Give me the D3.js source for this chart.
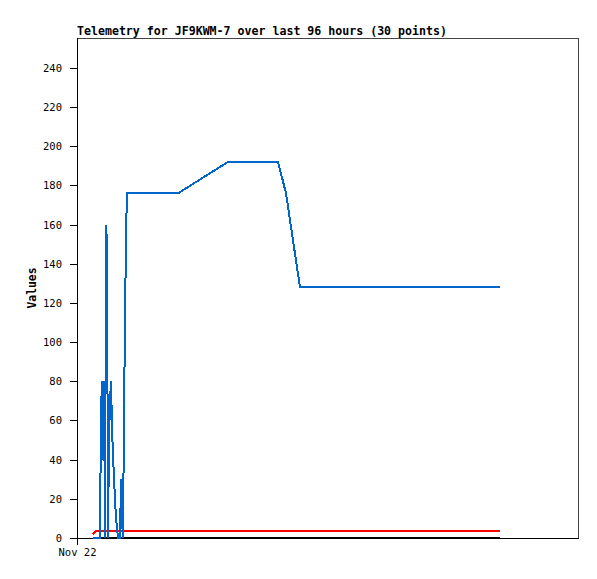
<!DOCTYPE html>
<html>
<head>
<meta charset="utf-8">
<script src="https://cdn.jsdelivr.net/npm/d3@7"></script>
<style>
  body { margin: 0; background: #fff; }
  text { font-family: "DejaVu Sans Mono", monospace; }
</style>
</head>
<body>
<div id="main"></div>
<script>
// hours after Nov 22 00:00
var hours = [3.07, 3.64, 4.41, 4.60, 4.79, 4.98, 5.17, 5.37, 5.56, 5.75, 5.94, 6.13, 6.32, 6.52, 6.71,
  7.09, 7.47, 7.86, 8.24, 8.43, 8.62, 8.81, 9.01, 9.20, 9.39, 9.58, 9.77, 19.35, 28.93, 38.52, 40.05, 42.73, 81.06];
var blueValues = [0, 0, 0, 65, 80, 40, 80, 0, 160, 150, 0, 50, 70, 80, 55,
  30, 10, 0, 0, 30, 10, 0, 65, 110, 155, 176, 176, 176, 192, 192, 176, 128, 128];
var redValues = [2, 3.6, 3.6, 3.6, 3.6, 3.6, 3.6, 3.6, 3.6, 3.6, 3.6, 3.6, 3.6, 3.6, 3.6,
  3.6, 3.6, 3.6, 3.6, 3.6, 3.6, 3.6, 3.6, 3.6, 3.6, 3.6, 3.6, 3.6, 3.6, 3.6, 3.6, 3.6, 3.6];
var blackValues = [0, 0, 0, 0, 0, 0, 0, 0, 0, 0, 0, 0, 0, 0, 0,
  0, 0, 0, 0, 0, 0, 0, 0, 0, 0, 0, 0, 0, 0, 0, 0, 0, 0];
var yTicks = [0, 20, 40, 60, 80, 100, 120, 140, 160, 180, 200, 220, 240];
var title = "Telemetry for JF9KWM-7 over last 96 hours (30 points)";

var width = 597, height = 579;
var margin = {left: 77, top: 38, right: 19, bottom: 41};
var w = width - margin.left - margin.right,
    h = height - margin.top - margin.bottom;

var start = new Date(2023, 10, 22, 0, 0);
function t(hr) { return new Date(start.getTime() + hr * 3600 * 1000); }

var x = d3.scaleTime().domain([start, t(96)]).range([0, w]);
var y = d3.scaleLinear().domain([0, 255.3]).range([h, 0]);

var svg = d3.select("#main").append("svg")
    .attr("width", width)
    .attr("height", height);

var g = svg.append("g")
    .attr("transform", "translate(" + margin.left + "," + margin.top + ")");

// frame
g.append("rect")
    .attr("x", 0.5).attr("y", 0.5)
    .attr("width", w).attr("height", h)
    .attr("fill", "none")
    .attr("stroke", "#444")
    .attr("shape-rendering", "crispEdges");

var yAxis = g.append("g")
    .call(d3.axisLeft(y).tickValues(yTicks).tickSize(7).tickPadding(8));
var xAxis = g.append("g")
    .attr("transform", "translate(0," + h + ")")
    .call(d3.axisBottom(x).tickValues([start]).tickSize(7).tickPadding(4)
      .tickFormat(d3.timeFormat("%b %d")));

[yAxis, xAxis].forEach(function(a) {
  a.selectAll("path, line").attr("stroke", "#000").attr("shape-rendering", "crispEdges");
  a.selectAll("text").attr("fill", "#000").style("font-size", "10.5px")
    .style("font-family", "DejaVu Sans Mono, monospace");
});
xAxis.select(".domain").remove();
yAxis.select(".domain").remove();
g.append("line").attr("x1", 0.5).attr("x2", 0.5).attr("y1", 0).attr("y2", h + 0.5)
    .attr("stroke", "#000").attr("shape-rendering", "crispEdges");
g.append("line").attr("x1", 0).attr("x2", w + 1).attr("y1", h + 0.5).attr("y2", h + 0.5)
    .attr("stroke", "#000").attr("shape-rendering", "crispEdges");

var line = d3.line()
    .x(function(d) { return x(t(d[0])); })
    .y(function(d) { return y(d[1]); });

function series(vals, color) {
  g.append("path")
    .datum(hours.map(function(hr, i) { return [hr, vals[i]]; }))
    .attr("fill", "none")
    .attr("stroke", color)
    .attr("stroke-width", 2)
    .attr("shape-rendering", "crispEdges")
    .attr("d", line);
}
series(blackValues, "#000000");
series(redValues, "#ff0000");
series(blueValues, "#0066cc");

svg.append("text")
    .attr("x", margin.left)
    .attr("y", 35)
    .style("font-size", "11.6px")
    .style("font-weight", "bold")
    .text(title);

svg.append("text")
    .attr("transform", "translate(36," + (margin.top + h / 2) + ") rotate(-90)")
    .attr("text-anchor", "middle")
    .style("font-size", "11.4px")
    .style("font-weight", "bold")
    .text("Values");
</script>
</body>
</html>
